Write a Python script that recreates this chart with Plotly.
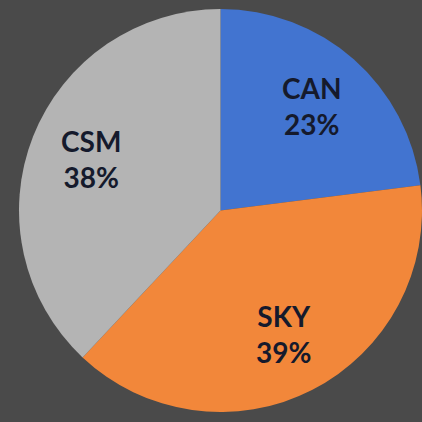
import numpy as np
import plotly.graph_objects as go

labels = ["CAN", "SKY", "CSM"]
values = [23, 39, 38]
colors = ["#4274D0", "#F2873A", "#B4B4B4"]

W, H = 422, 422
ML, MR, MT, MB = 19, 0, 3, 4
pw, ph = W - ML - MR, H - MT - MB
R = min(pw, ph) / 2
label_r = 0.69

fig = go.Figure(
    go.Pie(
        labels=labels,
        values=values,
        sort=False,
        direction="clockwise",
        rotation=0,
        marker=dict(colors=colors, line=dict(width=0)),
        textinfo="none",
        showlegend=False,
        hoverinfo="none",
    )
)

vals = np.array(values, dtype=float)
frac = vals / vals.sum()
cum = np.concatenate([[0], np.cumsum(frac)])
annotations = []
for i, lab in enumerate(labels):
    theta = 2 * np.pi * (cum[i] + cum[i + 1]) / 2
    x = 0.5 + label_r * R * np.sin(theta) / pw
    y = 0.5 + label_r * R * np.cos(theta) / ph
    annotations.append(
        dict(
            x=x, y=y, xref="paper", yref="paper",
            text=f"{lab}<br>{round(frac[i] * 100):.0f}%",
            showarrow=False,
            xanchor="center", yanchor="middle",
            font=dict(family="Lato", size=28, color="#151a2c", weight="bold"),
        )
    )

fig.update_layout(
    width=W,
    height=H,
    margin=dict(l=ML, r=MR, t=MT, b=MB),
    paper_bgcolor="#4a4a4a",
    plot_bgcolor="#4a4a4a",
    annotations=annotations,
)
fig.write_html("out.html")
